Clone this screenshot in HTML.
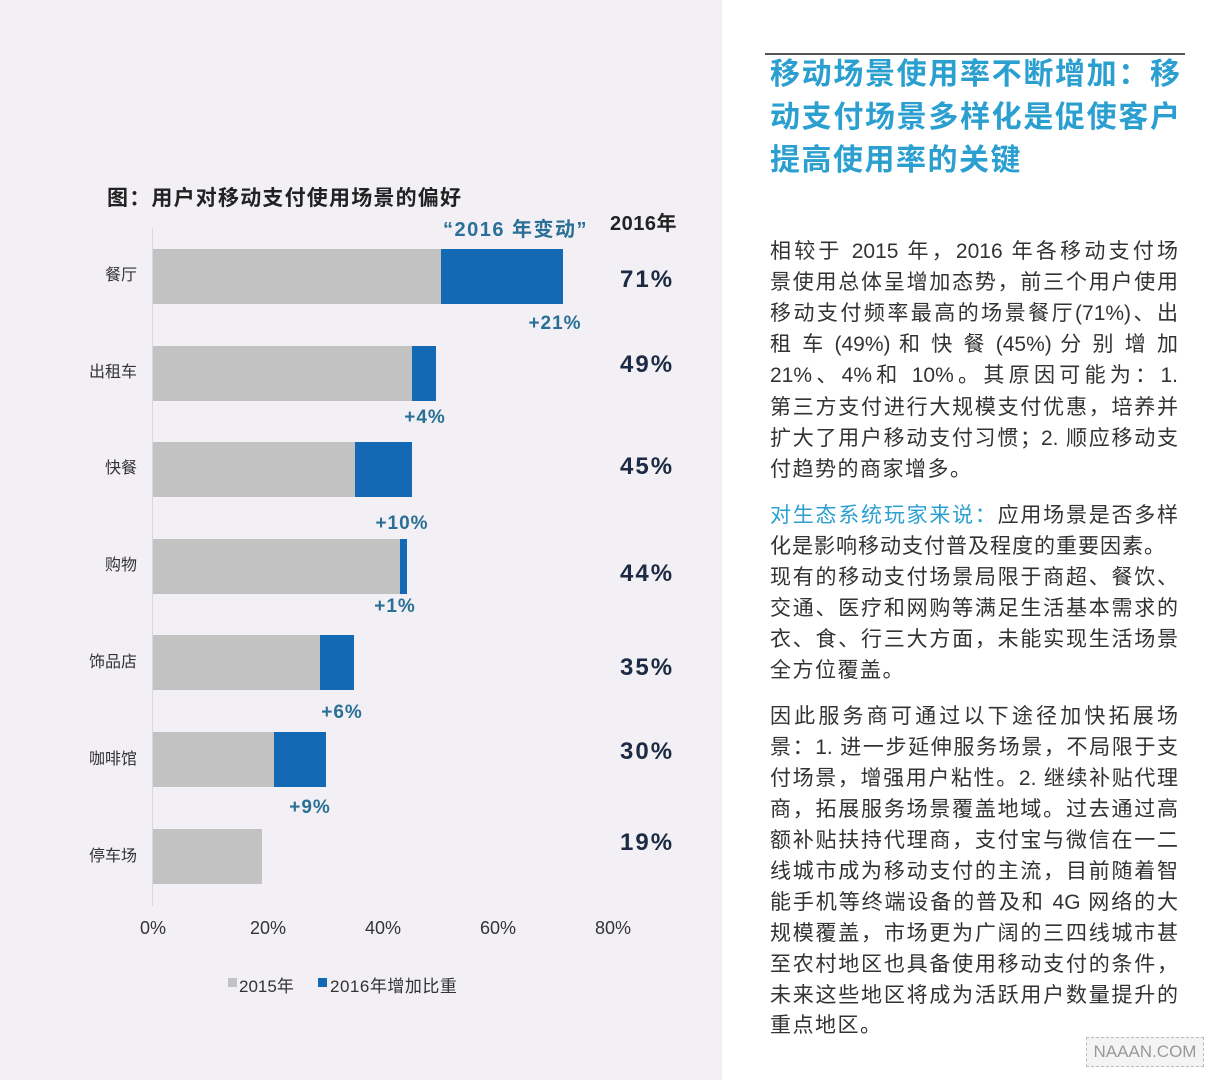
<!DOCTYPE html>
<html><head><meta charset="utf-8"><style>
*{margin:0;padding:0;box-sizing:border-box}
body{width:1223px;height:1080px;position:relative;background:#fff;overflow:hidden;font-family:"Liberation Sans","Noto Sans CJK SC",sans-serif}
.l{position:absolute;left:0;top:0;width:722px;height:1080px;background:#f2f0f4}
.a{position:absolute;white-space:nowrap}
.bar{position:absolute;height:55px}
.g{background:#c2c2c2}
.b{background:#1469b4}
.cat{position:absolute;width:80px;left:57px;text-align:right;font-size:16px;color:#333;line-height:20px}
.inc{position:absolute;font-size:19px;font-weight:bold;color:#2a6f95;transform:translateX(-50%);line-height:20px;letter-spacing:1px}
.val{position:absolute;left:620px;font-size:24px;font-weight:bold;color:#1c2a44;line-height:26px;letter-spacing:2px}
.tk{position:absolute;top:918px;font-size:18px;color:#333;transform:translateX(-50%)}
.h{position:absolute;left:770px;width:410px;font-size:30px;font-weight:bold;color:#2b9fd0;line-height:40px;text-align:justify;text-align-last:justify;white-space:nowrap}
.t{position:absolute;left:770px;width:408px;font-size:21px;color:#333;line-height:30px;text-align:justify;text-align-last:justify;white-space:nowrap}
.s{text-align-last:left;letter-spacing:1.5px}
</style></head><body>
<div class="l"></div>
<div class="a" style="left:107px;top:182px;font-size:21px;font-weight:bold;color:#222;letter-spacing:1.2px">图：用户对移动支付使用场景的偏好</div>
<div class="a" style="left:443px;top:213px;font-size:20px;font-weight:bold;color:#2a6f95;letter-spacing:1.5px">“2016 年变动”</div>
<div class="a" style="left:610px;top:207px;font-size:20px;font-weight:bold;color:#222;letter-spacing:0.5px">2016年</div>
<div style="position:absolute;left:152px;top:228px;width:1px;height:678px;background:#d8d8d8"></div>

<div class="bar g" style="left:153px;top:249px;width:288px"></div><div class="bar b" style="left:441px;top:249px;width:122px"></div>
<div class="bar g" style="left:153px;top:346px;width:259px"></div><div class="bar b" style="left:412px;top:346px;width:24px"></div>
<div class="bar g" style="left:153px;top:442px;width:202px"></div><div class="bar b" style="left:355px;top:442px;width:57px"></div>
<div class="bar g" style="left:153px;top:539px;width:247px"></div><div class="bar b" style="left:400px;top:539px;width:7px"></div>
<div class="bar g" style="left:153px;top:635px;width:167px"></div><div class="bar b" style="left:320px;top:635px;width:34px"></div>
<div class="bar g" style="left:153px;top:732px;width:121px"></div><div class="bar b" style="left:274px;top:732px;width:52px"></div>
<div class="bar g" style="left:153px;top:829px;width:109px"></div>

<div class="cat" style="top:266px">餐厅</div>
<div class="cat" style="top:363px">出租车</div>
<div class="cat" style="top:459px">快餐</div>
<div class="cat" style="top:556px">购物</div>
<div class="cat" style="top:653px">饰品店</div>
<div class="cat" style="top:750px">咖啡馆</div>
<div class="cat" style="top:847px">停车场</div>

<div class="inc" style="left:555px;top:314px">+21%</div>
<div class="inc" style="left:425px;top:408px">+4%</div>
<div class="inc" style="left:402px;top:514px">+10%</div>
<div class="inc" style="left:395px;top:597px">+1%</div>
<div class="inc" style="left:342px;top:703px">+6%</div>
<div class="inc" style="left:310px;top:798px">+9%</div>

<div class="val" style="top:267px">71%</div>
<div class="val" style="top:352px">49%</div>
<div class="val" style="top:454px">45%</div>
<div class="val" style="top:561px">44%</div>
<div class="val" style="top:655px">35%</div>
<div class="val" style="top:739px">30%</div>
<div class="val" style="top:830px">19%</div>

<div class="tk" style="left:153px">0%</div>
<div class="tk" style="left:268px">20%</div>
<div class="tk" style="left:383px">40%</div>
<div class="tk" style="left:498px">60%</div>
<div class="tk" style="left:613px">80%</div>

<div style="position:absolute;left:228px;top:978px;width:9px;height:9px;background:#c2c2c2"></div>
<div class="a" style="left:239px;top:972px;font-size:17px;color:#333">2015年</div>
<div style="position:absolute;left:318px;top:978px;width:9px;height:9px;background:#1469b4"></div>
<div class="a" style="left:330px;top:972px;font-size:17px;color:#333;letter-spacing:0.5px">2016年增加比重</div>

<div style="position:absolute;left:765px;top:53px;width:420px;height:2px;background:#555"></div>
<div class="h" style="top:55px">移动场景使用率不断增加：移</div>
<div class="h" style="top:98px">动支付场景多样化是促使客户</div>
<div class="h" style="top:141px;text-align-last:left;letter-spacing:1.5px">提高使用率的关键</div>

<div class="t" style="top:237px">相较于 2015 年，2016 年各移动支付场</div>
<div class="t" style="top:268px">景使用总体呈增加态势，前三个用户使用</div>
<div class="t" style="top:299px">移动支付频率最高的场景餐厅(71%)、出</div>
<div class="t" style="top:330px">租 车 (49%) 和 快 餐 (45%) 分 别 增 加</div>
<div class="t" style="top:361px">21%、4%和 10%。其原因可能为：1.</div>
<div class="t" style="top:393px">第三方支付进行大规模支付优惠，培养并</div>
<div class="t" style="top:424px">扩大了用户移动支付习惯；2. 顺应移动支</div>
<div class="t s" style="top:455px">付趋势的商家增多。</div>

<div class="t" style="top:501px"><span style="color:#2b9fd0">对生态系统玩家来说：</span>应用场景是否多样</div>
<div class="t s" style="top:532px;letter-spacing:1px">化是影响移动支付普及程度的重要因素。</div>
<div class="t" style="top:563px">现有的移动支付场景局限于商超、餐饮、</div>
<div class="t" style="top:594px">交通、医疗和网购等满足生活基本需求的</div>
<div class="t" style="top:625px">衣、食、行三大方面，未能实现生活场景</div>
<div class="t s" style="top:656px">全方位覆盖。</div>

<div class="t" style="top:702px">因此服务商可通过以下途径加快拓展场</div>
<div class="t" style="top:733px">景：1. 进一步延伸服务场景，不局限于支</div>
<div class="t" style="top:764px">付场景，增强用户粘性。2. 继续补贴代理</div>
<div class="t" style="top:795px">商，拓展服务场景覆盖地域。过去通过高</div>
<div class="t" style="top:826px">额补贴扶持代理商，支付宝与微信在一二</div>
<div class="t" style="top:857px">线城市成为移动支付的主流，目前随着智</div>
<div class="t" style="top:888px">能手机等终端设备的普及和 4G 网络的大</div>
<div class="t" style="top:919px">规模覆盖，市场更为广阔的三四线城市甚</div>
<div class="t" style="top:950px">至农村地区也具备使用移动支付的条件，</div>
<div class="t" style="top:981px">未来这些地区将成为活跃用户数量提升的</div>
<div class="t s" style="top:1011px">重点地区。</div>

<div style="position:absolute;left:1086px;top:1037px;width:118px;height:30px;border:1px dashed #bbb;background:#f4f4f4;color:#999;font-size:17px;text-align:center;line-height:28px">NAAAN.COM</div>
</body></html>
